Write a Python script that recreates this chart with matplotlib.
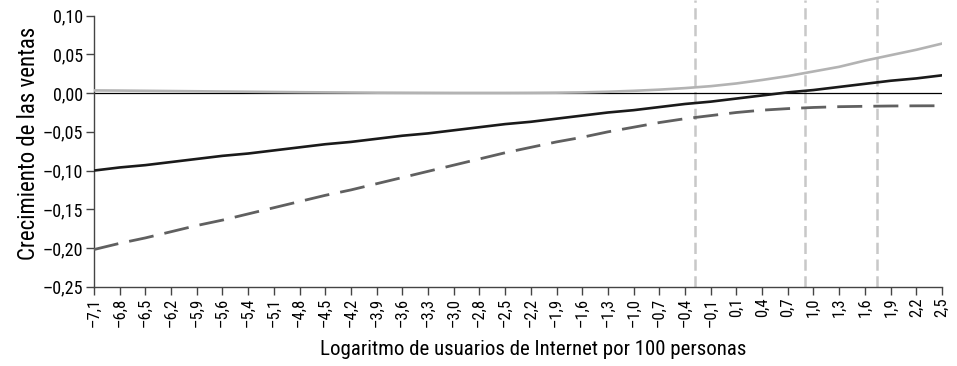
import numpy as np
import matplotlib
matplotlib.use("Agg")
import matplotlib.pyplot as plt

plt.rcParams['font.family'] = ['Roboto Condensed', 'DejaVu Sans']

x_labels = ["-7,1", "-6,8", "-6,5", "-6,2", "-5,9", "-5,6", "-5,4", "-5,1", "-4,8", "-4,5",
            "-4,2", "-3,9", "-3,6", "-3,3", "-3,0", "-2,8", "-2,5", "-2,2", "-1,9", "-1,6",
            "-1,3", "-1,0", "-0,7", "-0,4", "-0,1", "0,1", "0,4", "0,7", "1,0", "1,3",
            "1,6", "1,9", "2,2", "2,5"]
x_values = [float(s.replace(",", ".")) for s in x_labels]

black_line = [-0.100, -0.096, -0.093, -0.089, -0.085, -0.081, -0.078, -0.074, -0.070, -0.066,
              -0.063, -0.059, -0.055, -0.052, -0.048, -0.044, -0.040, -0.037, -0.033, -0.029,
              -0.025, -0.022, -0.018, -0.014, -0.011, -0.007, -0.003, 0.001, 0.004, 0.008,
              0.012, 0.016, 0.019, 0.023]
gray_line = [0.0035, 0.0033, 0.003, 0.0027, 0.0024, 0.0021, 0.0018, 0.0015, 0.0012, 0.001,
             0.0008, 0.0006, 0.0005, 0.0004, 0.0003, 0.0003, 0.0003, 0.0004, 0.0006, 0.001,
             0.0018, 0.003, 0.0045, 0.0065, 0.009, 0.0125, 0.017, 0.022, 0.028, 0.034,
             0.042, 0.049, 0.056, 0.064]
dashed_line = [-0.202, -0.194, -0.187, -0.179, -0.171, -0.164, -0.156, -0.148, -0.140, -0.132,
               -0.125, -0.117, -0.109, -0.101, -0.093, -0.085, -0.077, -0.070, -0.063, -0.057,
               -0.050, -0.044, -0.038, -0.033, -0.029, -0.025, -0.022, -0.020, -0.0185, -0.0175,
               -0.017, -0.0166, -0.0164, -0.0163]
vlines_x = [-0.28, 0.90, 1.74]

y_ticks = [0.10, 0.05, 0.00, -0.05, -0.10, -0.15, -0.20, -0.25]

def fmt(v):
    s = f"{v:.2f}".replace(".", ",")
    if v < -1e-9:
        s = "\u2013" + s[1:]
    return s

idx = np.arange(len(x_labels))
fig = plt.figure(figsize=(9.57, 3.66), dpi=100)
ax = fig.add_axes([0.0982, 0.2167, 0.8861, 0.7833])

vpos = np.interp(vlines_x, x_values, idx)
for v in vpos:
    ax.axvline(v, color='#c8c8c8', lw=1.8, ls=(0, (4.5, 2.2)), zorder=1)

ax.axhline(0, color='black', lw=0.9, zorder=2)
ax.plot(idx, gray_line, color='#b3b3b3', lw=1.9, zorder=3)
ax.plot(idx, black_line, color='#1a1a1a', lw=1.9, zorder=4)
ax.plot(idx, dashed_line, color='#606060', lw=2.0, ls=(0, (9, 4)), zorder=3)

ax.set_xlim(0, len(x_labels) - 1)
ax.set_ylim(-0.25, 0.1203)
ax.set_xticks(idx)
ax.set_xticklabels([s.replace("-", "\u2013") for s in x_labels], rotation=90, fontsize=12)
ax.set_yticks(y_ticks)
ax.set_yticklabels([fmt(v) for v in y_ticks], fontsize=13)

for s in ['top', 'right']:
    ax.spines[s].set_visible(False)
ax.spines['left'].set_bounds(-0.25, 0.10)
for s in ['left', 'bottom']:
    ax.spines[s].set_color('#444444')
    ax.spines[s].set_linewidth(1.0)
ax.tick_params(axis='both', direction='out', length=6, width=1.0, color='#444444', pad=2)

ax.set_ylabel("Crecimiento de las ventas", fontsize=16.5, labelpad=2)
ax.set_xlabel("Logaritmo de usuarios de Internet por 100 personas", fontsize=15.0, labelpad=9)
ax.xaxis.label.set_x(0.518)

fig.savefig("out.png", dpi=100)
